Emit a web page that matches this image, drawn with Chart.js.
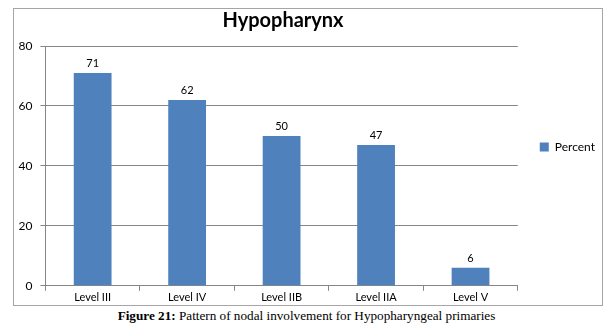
<!DOCTYPE html>
<html>
<head>
<meta charset="utf-8">
<script src="https://cdn.jsdelivr.net/npm/chart.js@4/dist/chart.umd.min.js"></script>
<style>
  html, body { margin: 0; padding: 0; background: #fff; }
  #wrap { position: relative; width: 613px; height: 326px; }
  #c { position: absolute; left: 0; top: 0; }
  #cap { position: absolute; left: 0; top: 308px; width: 613px; text-align: center;
         font-family: "Liberation Serif", "Times New Roman", serif; font-size: 13.2px; color: #000; }
</style>
</head>
<body>
<div id="wrap">
  <canvas id="c" width="613" height="306"></canvas>
  <div id="cap"><b>Figure 21:</b> Pattern of nodal involvement for Hypopharyngeal primaries</div>
</div>
<script>
const categories = ["Level III", "Level IV", "Level IIB", "Level IIA", "Level V"];
const percentValues = [71, 62, 50, 47, 6];
const seriesName = "Percent";
const chartTitle = "Hypopharynx";
const yTicks = [0, 20, 40, 60, 80];

const FONT = "Lato, 'Open Sans', sans-serif";

const framePlugin = {
  id: 'frame',
  afterLayout(chart) {
    const lg = chart.legend;
    if (lg) {
      lg.left += 12; lg.right += 12;
      lg.top -= 28; lg.bottom -= 28;
    }
  },
  beforeDraw(chart) {
    const ctx = chart.ctx;
    ctx.save();
    ctx.strokeStyle = '#a6a6a6';
    ctx.lineWidth = 1;
    ctx.strokeRect(13.5, 8.5, 589, 297);
    ctx.restore();
  },
  afterDraw(chart) {
    const ctx = chart.ctx;
    ctx.save();
    ctx.font = "bold 20px " + FONT;
    ctx.fillStyle = '#000';
    ctx.textAlign = 'center';
    ctx.textBaseline = 'middle';
    ctx.fillText(chartTitle, 283, 21);
    const meta = chart.getDatasetMeta(0);
    ctx.font = "11px " + FONT;
    ctx.textBaseline = 'bottom';
    meta.data.forEach((bar, i) => {
      ctx.fillText(String(chart.data.datasets[0].data[i]), bar.x, bar.y - 4);
    });
    ctx.restore();
  }
};

new Chart(document.getElementById('c'), {
  type: 'bar',
  data: {
    labels: categories,
    datasets: [{
      label: seriesName,
      data: percentValues,
      backgroundColor: '#4f81bd',
      borderWidth: 0,
      barPercentage: 0.8,
      categoryPercentage: 0.5
    }]
  },
  options: {
    responsive: false,
    animation: false,
    devicePixelRatio: 1,
    layout: { padding: { left: 10.5, top: 46, right: 20, bottom: 2 } },
    plugins: {
      title: { display: false },
      tooltip: { enabled: false },
      legend: {
        position: 'right',
        labels: {
          boxWidth: 9, boxHeight: 9, padding: 10,
          color: '#000',
          font: { family: FONT, size: 12 }
        }
      }
    },
    scales: {
      x: {
        grid: { display: true, drawOnChartArea: false, offset: true, color: '#868686', tickLength: 5 },
        border: { color: '#868686' },
        ticks: { color: '#000', font: { family: FONT, size: 11 }, padding: 0 }
      },
      y: {
        min: 0, max: 80,
        afterBuildTicks(scale) { scale.ticks = yTicks.map(v => ({ value: v })); },
        grid: { color: '#868686', tickLength: 5 },
        border: { color: '#868686' },
        ticks: { color: '#000', font: { family: FONT, size: 12 }, padding: 8 }
      }
    }
  },
  plugins: [framePlugin]
});
</script>
</body>
</html>
